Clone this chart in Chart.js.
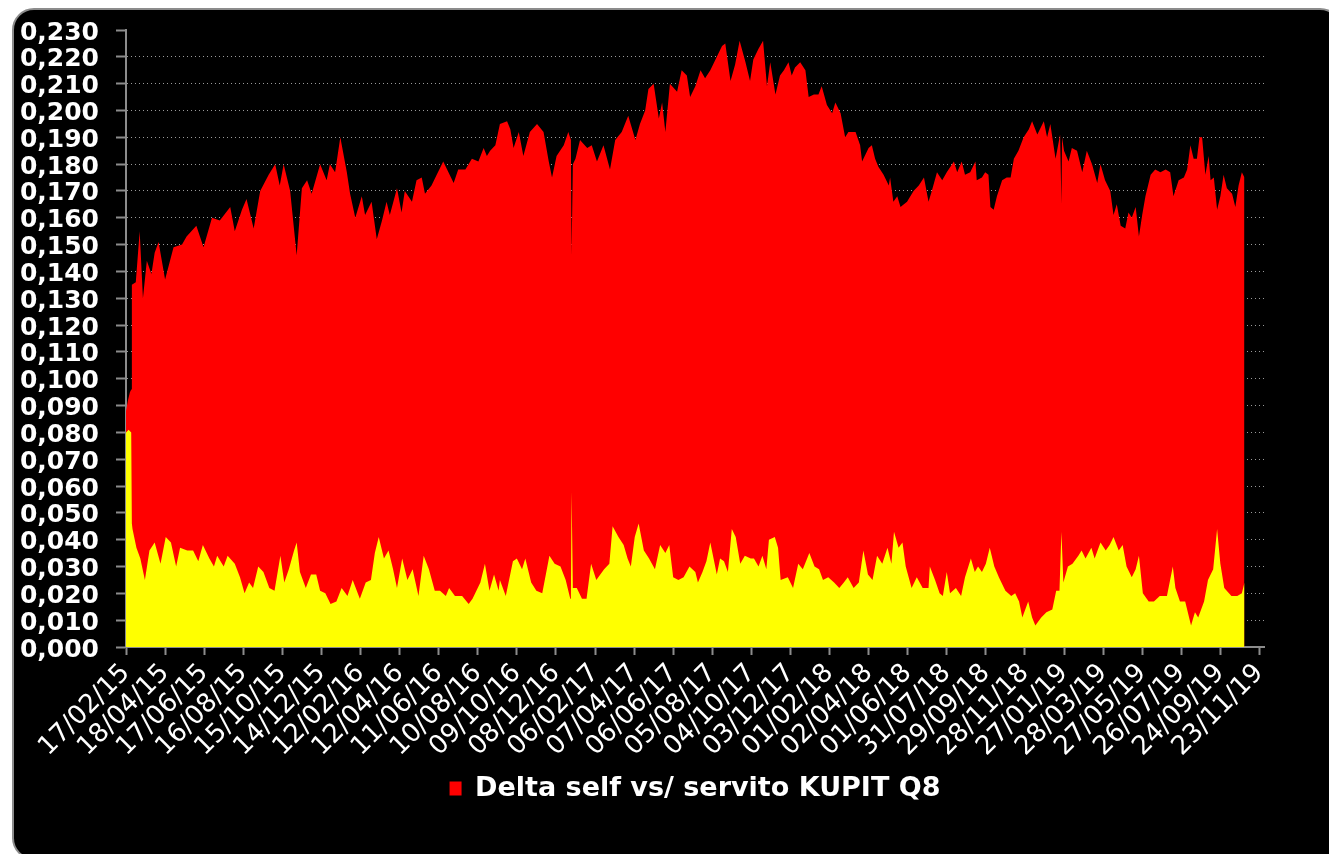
<!DOCTYPE html>
<html>
<head>
<meta charset="utf-8">
<script src="https://cdn.jsdelivr.net/npm/chart.js@4.4.1/dist/chart.umd.min.js"></script>
<style>
  html, body { margin: 0; padding: 0; background: #fff; }
  #frame {
    position: absolute; left: 12px; top: 8px; width: 1330px; height: 852px;
    background: #000; border: 2px solid #8c8c8c; border-radius: 22px; box-sizing: border-box;
  }
  #wrap { position: absolute; left: 0; top: 0; width: 1329px; height: 854px; }
</style>
</head>
<body>
<div id="frame"></div>
<div id="wrap"><canvas id="chart"></canvas></div>
<script>
// giorni dal 17/02/15 e valori
const deltaDays = [0, 3, 6, 8, 9, 15, 21, 26, 32, 39, 44, 50, 60, 73, 86, 93, 108, 119, 132, 144,
  160, 167, 178, 185, 196, 206, 219, 229, 236, 242, 252, 262, 270, 278, 285, 298, 308, 313, 321, 329,
  339, 344, 352, 362, 367, 377, 385, 393, 400, 405, 416, 423, 428, 439, 446, 454, 459, 469, 477, 487,
  495, 503, 510, 521, 531, 541, 549, 554, 559, 567, 574, 585, 590, 595, 603, 610, 620, 631, 641, 649,
  654, 661, 672, 679, 683, 684, 686, 690, 697, 708, 715, 723, 733, 743, 751, 761, 771, 782, 789, 797,
  802, 810, 818, 823, 828, 835, 846, 853, 861, 866, 874, 882, 889, 897, 907, 915, 920, 928, 935, 942,
  951, 958, 963, 971, 978, 984, 989, 997, 1004, 1010, 1017, 1022, 1027, 1035, 1043, 1048, 1056, 1063, 1068, 1076,
  1084, 1089, 1097, 1104, 1109, 1120, 1127, 1130, 1140, 1145, 1150, 1155, 1163, 1171, 1173, 1178, 1184, 1189, 1199, 1209,
  1217, 1225, 1232, 1237, 1245, 1253, 1260, 1271, 1276, 1283, 1288, 1296, 1304, 1306, 1314, 1319, 1324, 1327, 1332, 1337,
  1345, 1352, 1358, 1363, 1370, 1378, 1386, 1391, 1399, 1409, 1414, 1419, 1427, 1434, 1436, 1437, 1440, 1447, 1452, 1460,
  1468, 1475, 1483, 1491, 1496, 1503, 1511, 1516, 1521, 1527, 1534, 1539, 1544, 1550, 1555, 1560, 1565, 1573, 1580, 1588,
  1596, 1603, 1608, 1616, 1624, 1629, 1634, 1639, 1644, 1648, 1652, 1657, 1662, 1665, 1670, 1675, 1680, 1685, 1690, 1698,
  1703, 1708, 1713, 1717];
const deltaValues = [0.088, 0.092, 0.095, 0.096, 0.135, 0.136, 0.155, 0.130, 0.144, 0.139, 0.147, 0.151, 0.137, 0.149, 0.150, 0.153, 0.157, 0.149, 0.160, 0.159,
  0.164, 0.155, 0.163, 0.167, 0.156, 0.170, 0.176, 0.180, 0.172, 0.180, 0.170, 0.146, 0.171, 0.174, 0.169, 0.180, 0.174, 0.180, 0.177, 0.190,
  0.177, 0.169, 0.160, 0.168, 0.161, 0.166, 0.152, 0.159, 0.166, 0.161, 0.171, 0.162, 0.170, 0.166, 0.174, 0.175, 0.169, 0.172, 0.176, 0.181,
  0.177, 0.173, 0.178, 0.178, 0.182, 0.181, 0.186, 0.183, 0.185, 0.187, 0.195, 0.196, 0.193, 0.186, 0.192, 0.183, 0.192, 0.195, 0.192, 0.181,
  0.175, 0.183, 0.187, 0.192, 0.189, 0.146, 0.180, 0.182, 0.189, 0.186, 0.187, 0.181, 0.187, 0.178, 0.189, 0.192, 0.198, 0.189, 0.195, 0.200,
  0.208, 0.210, 0.197, 0.203, 0.192, 0.210, 0.207, 0.215, 0.213, 0.205, 0.209, 0.215, 0.212, 0.215, 0.220, 0.224, 0.225, 0.211, 0.217, 0.226,
  0.218, 0.211, 0.219, 0.223, 0.226, 0.209, 0.218, 0.206, 0.213, 0.215, 0.218, 0.213, 0.216, 0.218, 0.215, 0.205, 0.206, 0.206, 0.209, 0.202,
  0.199, 0.203, 0.199, 0.190, 0.192, 0.192, 0.187, 0.181, 0.186, 0.187, 0.182, 0.179, 0.176, 0.172, 0.175, 0.166, 0.168, 0.164, 0.166, 0.170,
  0.172, 0.175, 0.166, 0.170, 0.177, 0.174, 0.177, 0.181, 0.177, 0.181, 0.176, 0.177, 0.181, 0.174, 0.175, 0.177, 0.176, 0.164, 0.163, 0.168,
  0.174, 0.175, 0.175, 0.182, 0.185, 0.190, 0.193, 0.196, 0.191, 0.196, 0.190, 0.195, 0.182, 0.191, 0.165, 0.190, 0.185, 0.181, 0.186, 0.185,
  0.177, 0.185, 0.180, 0.173, 0.180, 0.174, 0.170, 0.161, 0.165, 0.157, 0.156, 0.162, 0.160, 0.164, 0.153, 0.161, 0.168, 0.176, 0.178, 0.177,
  0.178, 0.177, 0.168, 0.174, 0.175, 0.178, 0.187, 0.182, 0.182, 0.190, 0.190, 0.176, 0.183, 0.174, 0.175, 0.163, 0.168, 0.176, 0.171, 0.169,
  0.164, 0.172, 0.177, 0.175];

// serie gialla (in primo piano, non in legenda)
const baseDays = [0, 4, 8, 9, 10, 16, 22, 29, 36, 44, 53, 61, 69, 77, 83, 94, 103, 111, 118, 128,
  135, 140, 150, 156, 167, 175, 182, 189, 195, 203, 211, 220, 228, 237, 243, 250, 258, 262, 267, 276,
  284, 292, 298, 306, 314, 323, 331, 340, 348, 359, 368, 376, 382, 388, 396, 403, 410, 416, 424, 432,
  440, 449, 457, 465, 474, 482, 491, 496, 505, 516, 526, 532, 544, 551, 558, 565, 572, 574, 583, 594,
  600, 608, 613, 622, 630, 639, 650, 658, 667, 675, 682, 683, 684, 686, 692, 700, 707, 714, 722, 734,
  742, 747, 756, 764, 770, 775, 781, 787, 795, 803, 812, 820, 828, 834, 840, 848, 856, 865, 874, 878,
  885, 891, 897, 907, 912, 918, 924, 930, 936, 943, 950, 959, 964, 971, 977, 983, 987, 996, 1001, 1005,
  1016, 1024, 1032, 1039, 1049, 1057, 1064, 1070, 1078, 1087, 1095, 1102, 1108, 1117, 1125, 1132, 1139, 1146, 1153, 1161,
  1169, 1175, 1179, 1186, 1192, 1197, 1206, 1214, 1223, 1232, 1234, 1242, 1249, 1254, 1260, 1265, 1274, 1282, 1288, 1297,
  1303, 1308, 1314, 1320, 1326, 1333, 1340, 1350, 1359, 1365, 1371, 1376, 1385, 1391, 1396, 1405, 1413, 1422, 1428, 1433,
  1436, 1439, 1446, 1453, 1462, 1467, 1473, 1482, 1487, 1496, 1504, 1510, 1516, 1524, 1530, 1536, 1544, 1550, 1555, 1561,
  1570, 1578, 1587, 1598, 1607, 1611, 1618, 1626, 1635, 1641, 1646, 1655, 1661, 1669, 1675, 1680, 1686, 1697, 1706, 1713,
  1717];
const baseValues = [0.080, 0.081, 0.080, 0.046, 0.044, 0.037, 0.033, 0.025, 0.036, 0.039, 0.031, 0.041, 0.039, 0.030, 0.037, 0.036, 0.036, 0.032, 0.038, 0.033,
  0.030, 0.034, 0.030, 0.034, 0.031, 0.026, 0.020, 0.024, 0.022, 0.030, 0.028, 0.022, 0.021, 0.034, 0.024, 0.029, 0.036, 0.039, 0.028, 0.022,
  0.027, 0.027, 0.021, 0.020, 0.016, 0.017, 0.022, 0.019, 0.025, 0.018, 0.024, 0.025, 0.035, 0.041, 0.033, 0.036, 0.029, 0.022, 0.033, 0.025,
  0.029, 0.019, 0.034, 0.029, 0.021, 0.021, 0.019, 0.022, 0.019, 0.019, 0.016, 0.018, 0.024, 0.031, 0.021, 0.027, 0.021, 0.025, 0.019, 0.032,
  0.033, 0.029, 0.033, 0.024, 0.021, 0.020, 0.034, 0.031, 0.030, 0.025, 0.018, 0.019, 0.058, 0.022, 0.022, 0.018, 0.018, 0.031, 0.025, 0.029,
  0.031, 0.045, 0.041, 0.038, 0.033, 0.030, 0.041, 0.046, 0.036, 0.033, 0.029, 0.038, 0.035, 0.038, 0.026, 0.025, 0.026, 0.030, 0.028, 0.024,
  0.028, 0.032, 0.039, 0.027, 0.033, 0.032, 0.028, 0.044, 0.041, 0.031, 0.034, 0.033, 0.033, 0.030, 0.034, 0.029, 0.040, 0.041, 0.037, 0.025,
  0.026, 0.022, 0.031, 0.029, 0.035, 0.030, 0.029, 0.025, 0.026, 0.024, 0.022, 0.024, 0.026, 0.022, 0.024, 0.036, 0.027, 0.025, 0.034, 0.031,
  0.037, 0.031, 0.043, 0.037, 0.039, 0.030, 0.022, 0.026, 0.022, 0.022, 0.030, 0.025, 0.020, 0.019, 0.028, 0.020, 0.022, 0.019, 0.026, 0.033,
  0.028, 0.030, 0.028, 0.031, 0.037, 0.030, 0.026, 0.021, 0.019, 0.020, 0.017, 0.011, 0.017, 0.011, 0.008, 0.011, 0.013, 0.014, 0.021, 0.021,
  0.043, 0.024, 0.030, 0.031, 0.034, 0.036, 0.033, 0.037, 0.033, 0.039, 0.036, 0.038, 0.041, 0.036, 0.038, 0.030, 0.026, 0.029, 0.034, 0.020,
  0.017, 0.017, 0.019, 0.019, 0.030, 0.022, 0.017, 0.017, 0.008, 0.013, 0.011, 0.017, 0.025, 0.029, 0.044, 0.031, 0.022, 0.019, 0.019, 0.020,
  0.024];

const tickLabels = ["17/02/15", "18/04/15", "17/06/15", "16/08/15", "15/10/15", "14/12/15",
  "12/02/16", "12/04/16", "11/06/16", "10/08/16", "09/10/16", "08/12/16",
  "06/02/17", "07/04/17", "06/06/17", "05/08/17", "04/10/17", "03/12/17",
  "01/02/18", "02/04/18", "01/06/18", "31/07/18", "29/09/18", "28/11/18",
  "27/01/19", "28/03/19", "27/05/19", "26/07/19", "24/09/19", "23/11/19"];
const TICK_STEP = 60; // giorni tra un'etichetta e l'altra

const FONT = "'DejaVu Sans', Verdana, sans-serif";

function toPoints(days, values) {
  return days.map((d, i) => ({ x: d, y: values[i] }));
}

const ctx = document.getElementById("chart").getContext("2d");
new Chart(ctx, {
  type: "line",
  data: {
    datasets: [
      {
        label: "Base",
        data: toPoints(baseDays, baseValues),
        backgroundColor: "#ffff00",
        borderColor: "rgba(0,0,0,0)",
        borderWidth: 0,
        fill: "origin",
        pointRadius: 0,
        tension: 0,
        order: 0,
      },
      {
        label: "Delta self vs/ servito KUPIT Q8",
        data: toPoints(deltaDays, deltaValues),
        backgroundColor: "#ff0000",
        borderColor: "rgba(0,0,0,0)",
        borderWidth: 0,
        fill: "origin",
        pointRadius: 0,
        tension: 0,
        order: 1,
      },
    ],
  },
  options: {
    responsive: true,
    maintainAspectRatio: false,
    animation: false,
    layout: { padding: { left: 10, right: 65, top: 30, bottom: 42 } },
    plugins: {
      legend: {
        position: "bottom",
        fullSize: false,
        labels: {
          filter: (item) => item.datasetIndex === 1,
          color: "#fff",
          font: { family: FONT, size: 27, weight: "bold" },
          boxWidth: 12,
          boxHeight: 14,
          padding: 10,
        },
      },
      tooltip: { enabled: false },
    },
    scales: {
      x: {
        type: "linear",
        min: 0,
        max: 1747,
        afterBuildTicks: (s) => {
          s.ticks = tickLabels.map((_, i) => ({ value: i * TICK_STEP }));
        },
        afterFit: (s) => { s.height = 118; },
        grid: { drawOnChartArea: false, tickLength: 8, tickColor: "#8c8c8c", tickWidth: 2 },
        border: { color: "#8c8c8c", width: 2 },
        ticks: {
          autoSkip: false,
          maxRotation: 45,
          minRotation: 45,
          color: "#fff",
          font: { family: FONT, size: 26 },
          callback: (v, i) => tickLabels[i],
        },
      },
      y: {
        min: 0,
        max: 0.23,
        afterFit: (s) => { s.width = 116; },
        grid: {
          color: (c) => (c.tick && c.tick.value > 0.2295 ? "rgba(0,0,0,0)" : "#9a9a9a"),
          tickLength: 10,
          tickColor: "#8c8c8c",
          tickWidth: 2,
        },
        border: { color: "#8c8c8c", width: 2, dash: [1, 3] },
        ticks: {
          stepSize: 0.01,
          autoSkip: false,
          color: "#fff",
          padding: 17,
          labelOffset: 3,
          font: { family: FONT, size: 25, weight: "bold", lineHeight: 1 },
          callback: (v) => v.toFixed(3).replace(".", ","),
        },
      },
    },
  },
});
</script>
</body>
</html>
